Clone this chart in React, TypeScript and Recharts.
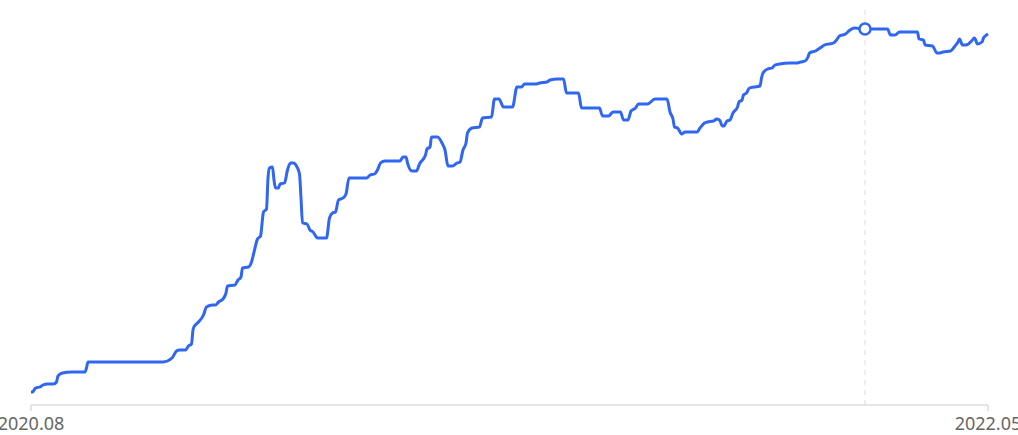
import { LineChart, Line, XAxis, YAxis, ReferenceLine, ReferenceDot } from 'recharts'

// days since 2020-08-01
const days = [
  0, 1, 3, 6, 8, 11, 15, 17, 18, 21,
  27, 36, 37, 38, 88, 94, 97, 99, 103, 105,
  107, 108, 109, 111, 115, 117, 121, 123, 125, 128,
  130, 131, 136, 138, 140, 141, 145, 147, 149, 151,
  153, 155, 157, 158, 159, 161, 162, 163, 165, 166,
  169, 171, 173, 175, 177, 179, 180, 181, 184, 186,
  188, 191, 197, 199, 201, 203, 205, 208, 210, 212,
  224, 226, 229, 231, 233, 236, 246, 248, 250, 251,
  254, 257, 259, 263, 264, 266, 267, 271, 274, 276,
  278, 281, 284, 286, 288, 290, 291, 294, 299, 301,
  307, 309, 312, 315, 321, 324, 327, 329, 337, 339,
  344, 346, 351, 355, 357, 365, 367, 379, 381, 385,
  388, 393, 395, 398, 400, 403, 405, 411, 416, 424,
  426, 428, 429, 431, 434, 436, 444, 446, 449, 451,
  455, 457, 459, 461, 462, 464, 466, 468, 471, 472,
  474, 475, 477, 479, 482, 486, 487, 488, 491, 494,
  496, 499, 506, 511, 513, 516, 518, 519, 523, 526,
  529, 535, 537, 539, 543, 546, 549, 556, 571, 573,
  576, 579, 591, 592, 595, 596, 601, 604, 606, 608,
  613, 616, 618, 619, 621, 623, 625, 627, 629, 631,
  634, 635, 637, 638,
]

const values = [
  13, 13, 17, 18, 20, 21, 21, 23, 29, 32,
  33, 33, 37, 43, 43, 47, 54, 55, 55, 59,
  61, 75, 79, 82, 90, 98, 100, 100, 103, 106,
  112, 119, 120, 125, 128, 137, 138, 143, 155, 166,
  169, 193, 196, 227, 237, 238, 225, 217, 217, 221,
  222, 235, 242, 242, 239, 231, 207, 182, 181, 175,
  173, 167, 167, 187, 192, 193, 205, 207, 211, 227,
  227, 230, 231, 235, 242, 244, 244, 248, 248, 242,
  234, 234, 241, 250, 256, 258, 268, 268, 262, 255,
  239, 239, 242, 243, 255, 262, 272, 277, 278, 287,
  288, 306, 306, 298, 298, 318, 318, 321, 321, 322,
  323, 325, 326, 326, 312, 312, 297, 297, 289, 289,
  293, 293, 285, 285, 294, 297, 301, 301, 306, 306,
  293, 286, 278, 277, 271, 273, 273, 277, 282, 283,
  284, 286, 285, 279, 279, 284, 285, 292, 298, 303,
  305, 310, 312, 317, 318, 319, 327, 332, 336, 337,
  340, 341, 342, 342, 343, 344, 348, 352, 354, 357,
  360, 362, 365, 369, 371, 375, 377, 376, 376, 370,
  370, 373, 373, 366, 365, 360, 359, 352, 352, 353,
  354, 359, 363, 366, 360, 360, 361, 364, 367, 361,
  363, 367, 370, 371,
]

const tickDays = [0, 638]
const tickLabels = ['2020.08', '2022.05']
const hoverIndex = 177

const data = days.map((d, i) => ({ day: d, value: values[i] }))

export default function App() {
  return (
    <div style={{ position: 'absolute', top: 0, left: 0, background: '#fff' }}>
      <LineChart width={1018} height={435} data={data} margin={{ top: 5, right: 30, left: 31, bottom: 0 }}>
        <XAxis
          dataKey="day"
          type="number"
          domain={[0, 638]}
          ticks={tickDays}
          interval={0}
          tickFormatter={(v: number) => tickLabels[tickDays.indexOf(v)] ?? ''}
          height={30}
          tickSize={6}
          tickMargin={6}
          stroke="#cccccc"
          tick={{ fontSize: 18, fill: '#666666', fontFamily: '"Noto Sans", sans-serif' }}
        />
        <YAxis hide domain={[0, 400]} />
        <ReferenceLine x={days[hoverIndex]} stroke="#dddddd" strokeDasharray="5 5" />
        <Line
          type="monotone"
          dataKey="value"
          stroke="#2f66f2"
          strokeWidth={3}
          dot={false}
          isAnimationActive={false}
        />
        <ReferenceDot
          x={days[hoverIndex]}
          y={values[hoverIndex]}
          r={5.5}
          fill="#ffffff"
          stroke="#2f66f2"
          strokeWidth={2.5}
        />
      </LineChart>
    </div>
  )
}
